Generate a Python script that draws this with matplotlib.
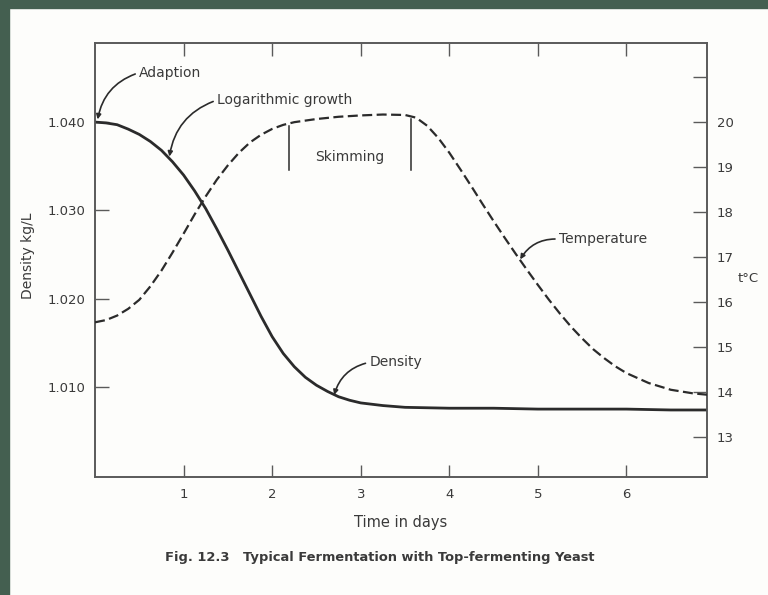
import matplotlib
matplotlib.use("Agg")
import matplotlib.pyplot as plt
import numpy as np

INK = "#2b2b2b"
TEXT = "#3a3a3a"
FRAME = "#5a5a5a"
PAPER = "#fdfdfb"
BORDER = "#445f50"

plt.rcParams.update({
    "font.family": ["DejaVu Sans"],
    "text.color": TEXT,
    "axes.edgecolor": FRAME,
    "axes.labelcolor": TEXT,
    "xtick.color": FRAME,
    "ytick.color": FRAME,
    "xtick.labelcolor": TEXT,
    "ytick.labelcolor": TEXT,
})

# values
days = [0, 0.125, 0.25, 0.375, 0.5, 0.625, 0.75, 0.875, 1.0, 1.125, 1.25,
        1.375, 1.5, 1.625, 1.75, 1.875, 2.0, 2.125, 2.25, 2.375, 2.5, 2.625,
        2.75, 2.875, 3.0, 3.25, 3.5, 4.0, 4.5, 5.0, 5.5, 6.0, 6.5, 6.91]
density = [1.0400, 1.0399, 1.0397, 1.0392, 1.0386, 1.0378, 1.0368, 1.0355,
           1.0340, 1.0322, 1.0302, 1.0279, 1.0255, 1.0230, 1.0205, 1.0180,
           1.0157, 1.0138, 1.0123, 1.0111, 1.0102, 1.0095, 1.0089, 1.0085,
           1.0082, 1.0079, 1.0077, 1.0076, 1.0076, 1.0075, 1.0075, 1.0075,
           1.0074, 1.0074]

temp_days = [0, 0.125, 0.25, 0.375, 0.5, 0.625, 0.75, 0.875, 1.0, 1.125,
             1.25, 1.375, 1.5, 1.625, 1.75, 1.875, 2.0, 2.125, 2.25, 2.5,
             2.75, 3.0, 3.25, 3.5, 3.625, 3.75, 3.875, 4.0, 4.125, 4.25,
             4.375, 4.5, 4.625, 4.75, 4.875, 5.0, 5.125, 5.25, 5.375, 5.5,
             5.625, 5.75, 5.875, 6.0, 6.25, 6.5, 6.75, 6.91]
temperature = [15.55, 15.6, 15.7, 15.85, 16.05, 16.35, 16.7, 17.1, 17.52,
               17.95, 18.35, 18.72, 19.04, 19.32, 19.55, 19.72, 19.85, 19.94,
               20.0, 20.07, 20.12, 20.15, 20.17, 20.16, 20.1, 19.92, 19.65,
               19.32, 18.95, 18.57, 18.18, 17.8, 17.43, 17.07, 16.72, 16.38,
               16.05, 15.74, 15.45, 15.19, 14.95, 14.75, 14.57, 14.42, 14.2,
               14.05, 13.97, 13.94]

day_ticks = [1, 2, 3, 4, 5, 6]
density_ticks = [1.010, 1.020, 1.030, 1.040]
temp_ticks = [13, 14, 15, 16, 17, 18, 19, 20, 21]
temp_labels = ["13", "14", "15", "16", "17", "18", "19", "20", ""]
skimming = [2.19, 3.57]

fig = plt.figure(figsize=(7.68, 5.95), dpi=100, facecolor=PAPER)
fig.patches.append(plt.Rectangle((0, 1 - 8 / 595), 1, 8 / 595, transform=fig.transFigure,
                                 color=BORDER, zorder=10))
fig.patches.append(plt.Rectangle((0, 0), 9 / 768, 1, transform=fig.transFigure,
                                 color=BORDER, zorder=10))

ax = fig.add_axes([0.1237, 0.1983, 0.797, 0.7294])
ax.set_facecolor(PAPER)
ax2 = ax.twinx()

ax.set_xlim(0, 6.91)
ax.set_ylim(0.99981, 1.04895)
ax2.set_ylim(12.11, 21.76)

ax.plot(days, density, color=INK, lw=2.0, solid_capstyle="round",
        solid_joinstyle="round", zorder=3)
ax2.plot(temp_days, temperature, color=INK, lw=1.6, dashes=(4.5, 2), zorder=3)

for a in (ax, ax2):
    for s in a.spines.values():
        s.set_linewidth(1.2)
        s.set_color(FRAME)

ax.set_xticks(day_ticks)
ax.set_xticklabels([str(d) for d in day_ticks], fontsize=9.5)
ax.tick_params(axis="x", direction="in", length=9, width=1, pad=8, top=True)
ax.set_yticks(density_ticks)
ax.set_yticklabels([f"{v:.3f}" for v in density_ticks], fontsize=9.5)
ax.tick_params(axis="y", direction="in", length=10, width=1, pad=7)
ax2.set_yticks(temp_ticks)
ax2.set_yticklabels(temp_labels, fontsize=9.5)
ax2.tick_params(axis="y", direction="in", length=10, width=1, pad=7)

ax.set_xlabel("Time in days", fontsize=10.5, labelpad=10)

# skimming bracket hanging under the temperature plateau
tops = np.interp(skimming, temp_days, temperature)
for xs, yt in zip(skimming, tops):
    ax2.plot([xs, xs], [yt - 0.05, 18.93], color=INK, lw=1.1, zorder=2)
ax2.text(sum(skimming) / 2, 19.22, "Skimming", fontsize=10, ha="center", va="center")

arrow = dict(arrowstyle="-|>", color=INK, lw=1.2, mutation_scale=7,
             connectionstyle="arc3,rad=0.3", relpos=(0, 0.5), shrinkA=1, shrinkB=0)
ax.annotate("Adaption", xy=(0.03, 1.0403), xytext=(0.5, 1.0456),
            fontsize=10, va="center", ha="left", arrowprops=arrow)
ax.annotate("Logarithmic growth", xy=(0.84, 1.0361), xytext=(1.38, 1.0425),
            fontsize=10, va="center", ha="left", arrowprops=arrow)
ax2.annotate("Temperature", xy=(4.8, 16.95), xytext=(5.24, 17.4),
             fontsize=10, va="center", ha="left", arrowprops=arrow)
ax.annotate("Density", xy=(2.7, 1.0091), xytext=(3.1, 1.0128),
            fontsize=10, va="center", ha="left", arrowprops=arrow)

fig.text(28 / 768, 1 - 256 / 595, "Density kg/L", rotation=90, fontsize=10,
         ha="center", va="center")
fig.text(748 / 768, 1 - 278 / 595, "t°C", fontsize=9.5, ha="center", va="center")
fig.text(380 / 768, 1 - 557 / 595,
         "Fig. 12.3   Typical Fermentation with Top-fermenting Yeast",
         fontsize=9.4, fontweight="bold", ha="center", va="center")

fig.savefig("out.png", dpi=100, facecolor=PAPER)
